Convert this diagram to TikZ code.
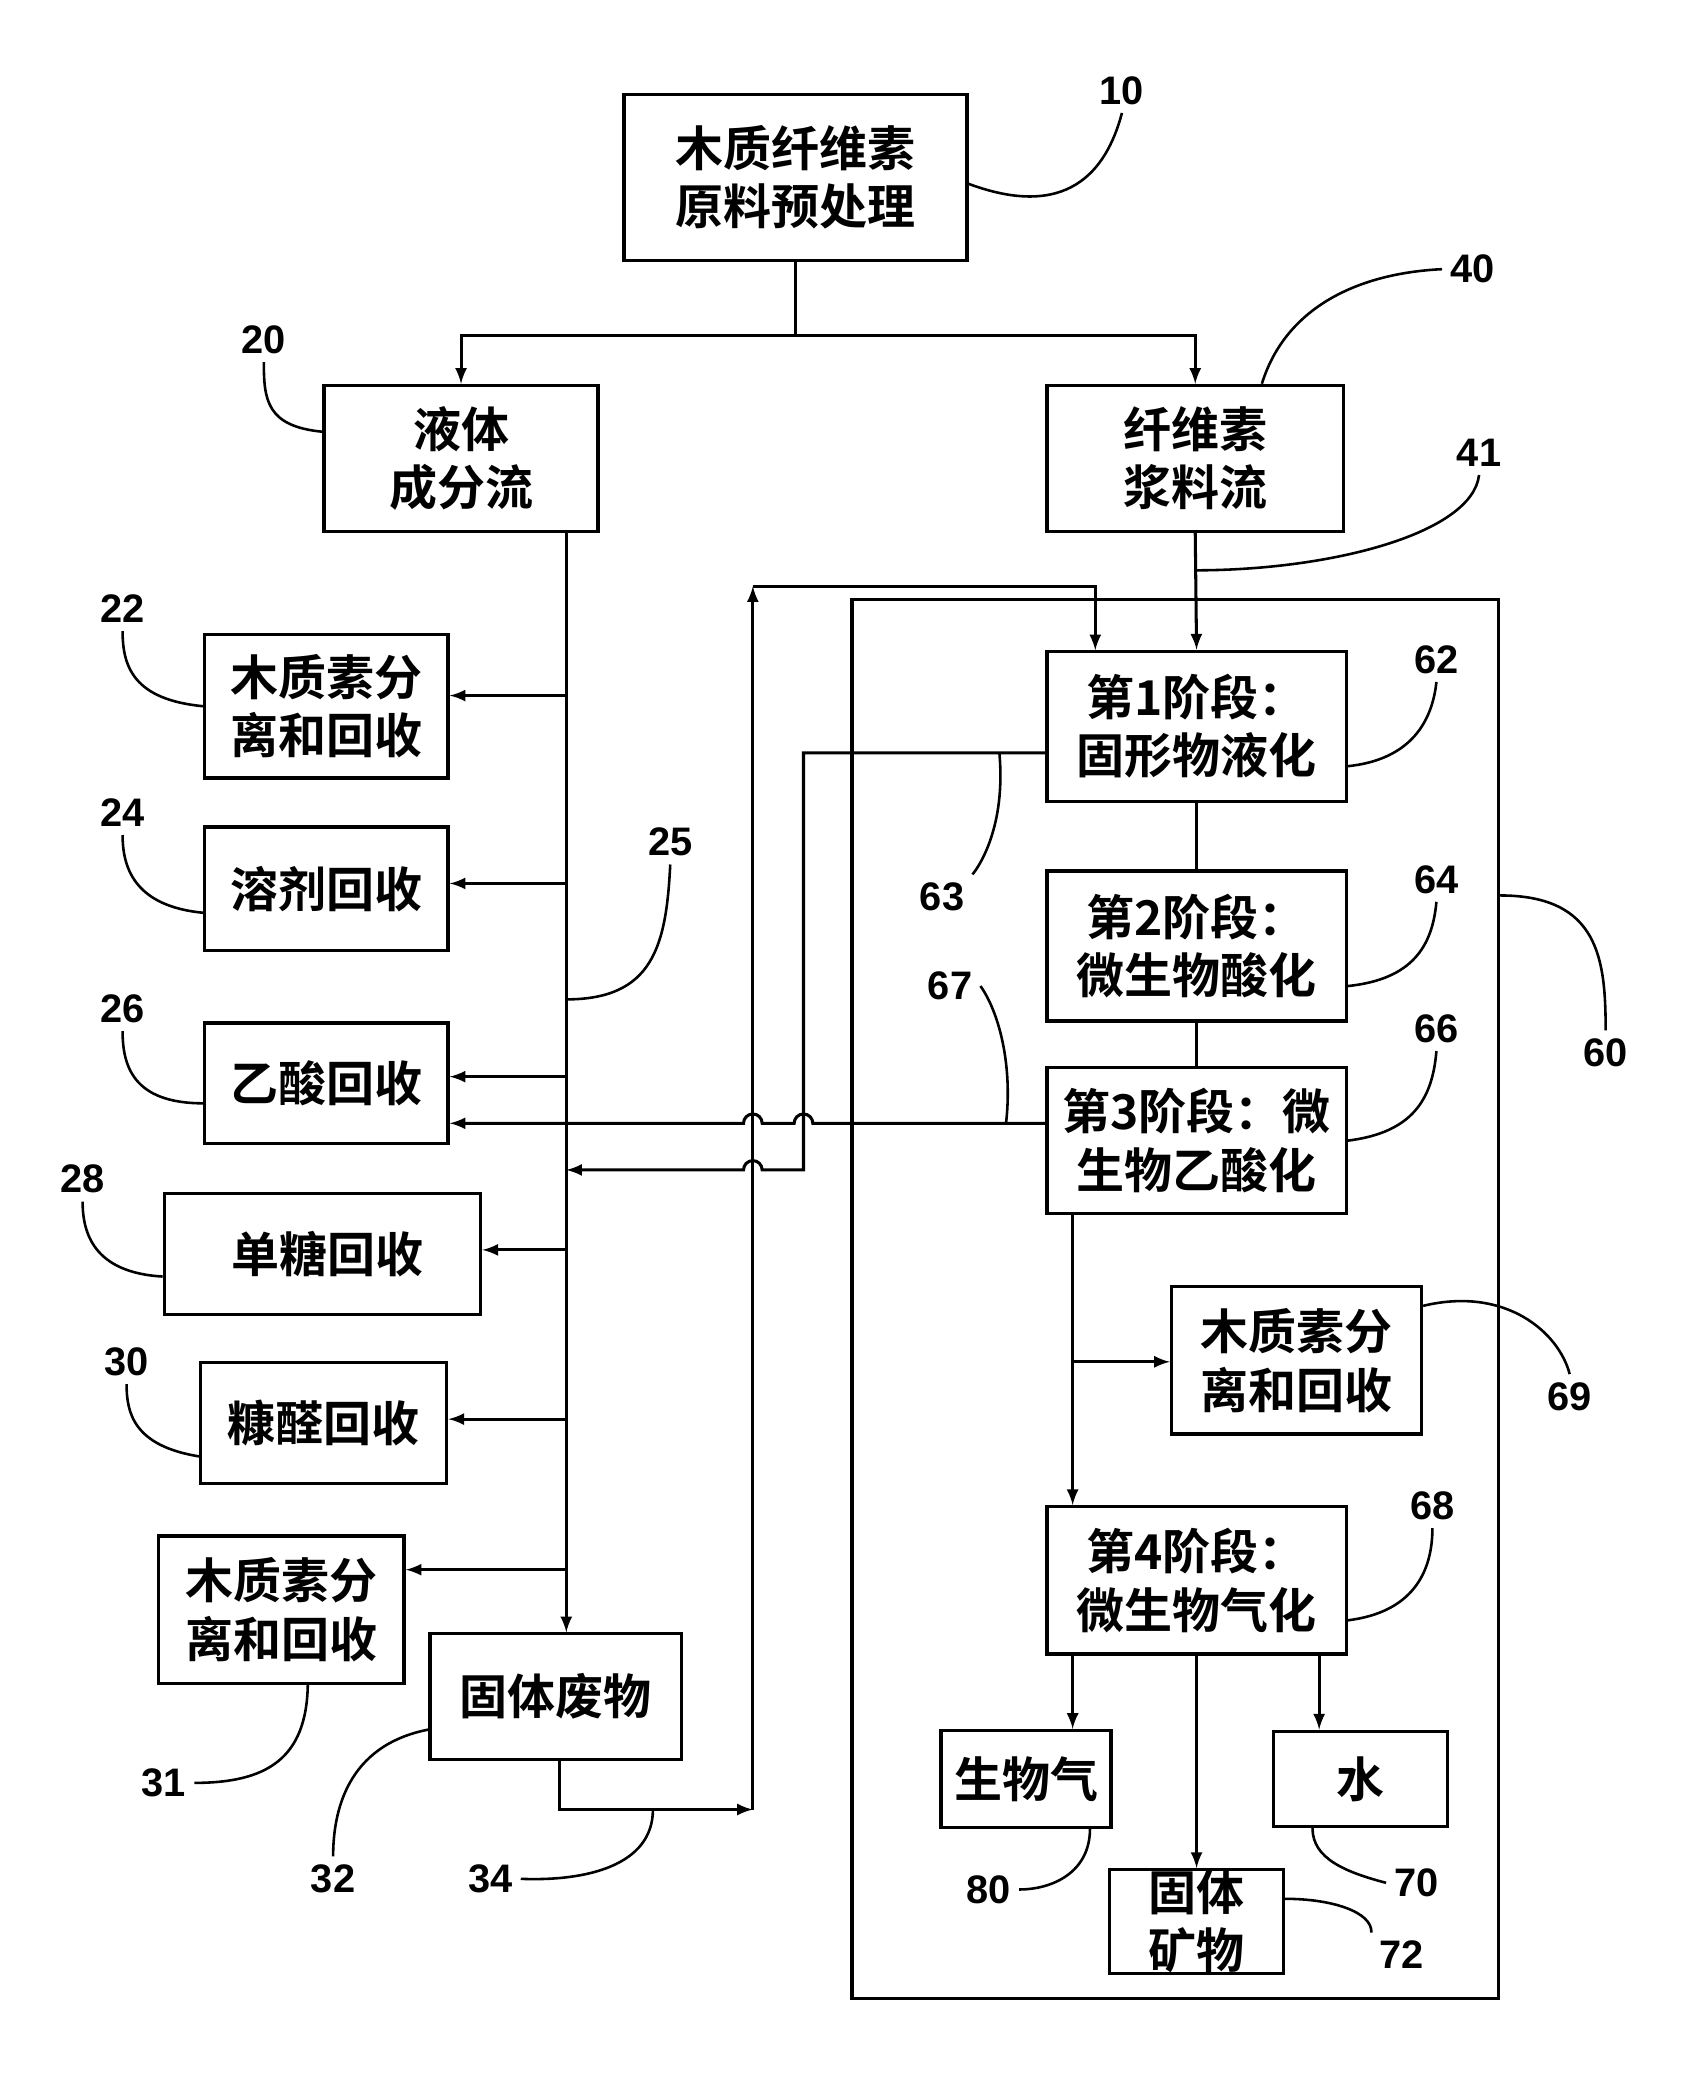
\documentclass[tikz,border=0pt]{standalone}
\usepackage{fontspec}
\setmainfont{Liberation Sans}
\newfontfamily\cjk{Noto Sans CJK SC}[BoldFont={Noto Sans CJK SC Bold}]
\usetikzlibrary{positioning,calc}

\tikzset{
  blk/.style={draw=black,line width=1.4pt,align=center,inner sep=0pt,font=\cjk\bfseries\fontsize{20.5}{25}\selectfont},
  arr/.style={-latex,line width=1.3pt},
  ln/.style={line width=1.3pt},
  lead/.style={line width=1.1pt},
  num/.style={font=\bfseries\fontsize{17}{17}\selectfont}
}
\newcommand{\bx}[6]{\node[blk,minimum width=#4*0.02cm-1.4pt,minimum height=#5*0.02cm-1.4pt] (#1) at (#2,#3) {#6};}

\begin{document}
\begin{tikzpicture}[x=0.02cm,y=-0.02cm]
		\useasboundingbox (0,0) rectangle (1280,1570);
		% process boxes
		\bx{pre}{597}{133}{260}{127}{木质纤维素\\原料预处理}
		\bx{liq}{346}{344}{208}{112}{液体\\成分流}
		\bx{pulp}{897}{344}{225}{112}{纤维素\\浆料流}
		\bx{lig}{245}{530}{185}{110}{木质素分\\离和回收}
		\bx{sol}{245}{667}{185}{95}{溶剂回收}
		\bx{ace}{245}{813}{185}{93}{乙酸回收}
		\bx{sug}{242}{941}{240}{93}{\ 单糖回收}
		\bx{fur}{243}{1068}{187}{93}{糠醛回收}
		\bx{ligb}{211}{1208}{187}{113}{木质素分\\离和回收}
		\bx{waste}{417}{1273}{191}{97}{固体废物}
		\node[draw=black,line width=1.4pt,minimum width=485*0.02cm,minimum height=1050*0.02cm] (sys) at (882,975) {};
		\bx{st1}{898}{545}{227}{115}{第1阶段：\\固形物液化}
		\bx{st2}{898}{710}{227}{115}{第2阶段：\\微生物酸化}
		\bx{st3}{898}{856}{227}{112}{第3阶段：微\\生物乙酸化}
		\bx{ligc}{973}{1021}{190}{113}{木质素分\\离和回收}
		\bx{st4}{898}{1186}{227}{113}{第4阶段：\\微生物气化}
		\bx{gas}{770}{1335}{130}{75}{生物气}
		\bx{wat}{1021}{1335}{133}{74}{水}
		\bx{min}{898}{1442}{133}{75}{固体\\矿物}

		% reference numbers
		\node[num] (n10) at (842,68) {10};
		\node[num] (n20) at (198,255) {20};
		\node[num] (n40) at (1105,202) {40};
		\node[num] (n41) at (1110,340) {41};
		\node[num] (n22) at (92,457) {22};
		\node[num] (n24) at (92,610) {24};
		\node[num] (n25) at (503,632) {25};
		\node[num] (n26) at (92,757) {26};
		\node[num] (n28) at (62,885) {28};
		\node[num] (n30) at (95,1022) {30};
		\node[num] (n31) at (123,1338) {31};
		\node[num] (n32) at (250,1410) {32};
		\node[num] (n34) at (368,1410) {34};
		\node[num] (n62) at (1078,495) {62};
		\node[num] (n63) at (707,673) {63};
		\node[num] (n64) at (1078,660) {64};
		\node[num] (n67) at (713,740) {67};
		\node[num] (n66) at (1078,772) {66};
		\node[num] (n60) at (1205,790) {60};
		\node[num] (n69) at (1178,1048) {69};
		\node[num] (n68) at (1075,1130) {68};
		\node[num] (n80) at (742,1418) {80};
		\node[num] (n70) at (1063,1413) {70};
		\node[num] (n72) at (1052,1467) {72};

		% flow lines
		\coordinate (split) at (597,252);
		\draw[ln] (pre.south) -- (split);
		\draw[arr] (split) -| (liq.north);
		\draw[arr] (split) -| (pulp.north);
		\draw[arr] (pulp.south) -- (st1.north);
		\coordinate (trunk) at (425,400);
		\draw[arr] (trunk) -- (425,1225);
		\foreach \yy/\tgt in {522/lig,663/sol,808/ace,938/sug,1065/fur,1178/ligb}
			\draw[arr] (425,\yy) -- (\tgt.east |- 0,\yy);
		% recycle of solid waste
		\draw[arr] (waste.south -| 420,0) |- (565,1358);
		\draw[arr] (565,1358) -- (565,440);
		\draw[arr] (565,440) -- (822,440) -- (822,488);
		% acetic acid return with hops
		\draw[arr] (st3.west |- 0,843) -- (610,843) arc(0:-180:7) -- (572,843) arc(0:-180:7) -- (ace.east |- 0,843);
		% liquefaction return
		\draw[arr] (st1.west |- 0,565) -- (603,565) -- (603,878) -- (572,878) arc(0:-180:7) -- (425,878);
		\draw[ln] (st1.south) -- (st2.north);
		\draw[ln] (st2.south) -- (st3.north);
		\draw[arr] (st3.south -| 805,0) -- (st4.north -| 805,0);
		\draw[arr] (805,1022) -- (ligc.west |- 0,1022);
		\draw[arr] (st4.south -| 805,0) -- (gas.north -| 805,0);
		\draw[arr] (st4.south) -- (min.north);
		\draw[arr] (st4.south -| 990,0) -- (wat.north -| 990,0);

		% leader lines
		\draw[lead] (pre.east) ++(0,5) .. controls (800,165) and (830,130) .. (n10.south);
		\draw[lead] (liq.west) ++(0,-20) .. controls (200,320) and (198,300) .. (n20.south);
		\draw[lead] (pulp.north) ++(50,0) .. controls (965,230) and (1020,205) .. (n40.west);
		\draw[lead] (897,428) .. controls (1000,428) and (1105,400) .. (n41.south);
		\draw[lead] (lig.west) .. controls (100,525) and (92,500) .. (n22.south);
		\draw[lead] (sol.west) ++(0,18) .. controls (100,680) and (92,650) .. (n24.south);
		\draw[lead] (425,750) .. controls (490,750) and (500,710) .. (n25.south);
		\draw[lead] (ace.west) ++(0,15) .. controls (100,828) and (92,800) .. (n26.south);
		\draw[lead] (sug.west) ++(0,17) .. controls (70,955) and (62,925) .. (n28.south);
		\draw[lead] (fur.west) ++(0,25) .. controls (100,1085) and (95,1060) .. (n30.south);
		\draw[lead] (ligb.south) ++(20,0) .. controls (230,1320) and (200,1338) .. (n31.east);
		\draw[lead] (waste.west) ++(0,25) .. controls (260,1310) and (250,1360) .. (n32.north);
		\draw[lead] (490,1358) .. controls (490,1400) and (440,1412) .. (n34.east);
		\draw[lead] (st1.east) ++(0,30) .. controls (1060,570) and (1075,540) .. (n62.south);
		\draw[lead] (750,565) .. controls (755,620) and (735,650) .. (n63.north east);
		\draw[lead] (st2.east) ++(0,30) .. controls (1060,735) and (1075,710) .. (n64.south);
		\draw[lead] (755,843) .. controls (760,800) and (750,760) .. (n67.east);
		\draw[lead] (st3.east) .. controls (1060,850) and (1075,825) .. (n66.south);
		\draw[lead] (sys.east |- 0,672) .. controls (1200,672) and (1205,720) .. (n60.north);
		\draw[lead] (ligc.east |- 0,980) .. controls (1130,965) and (1170,1000) .. (n69.north);
		\draw[lead] (st4.east) ++(0,30) .. controls (1060,1210) and (1075,1180) .. (n68.south);
		\draw[lead] (gas.south -| 818,0) .. controls (818,1405) and (790,1418) .. (n80.east);
		\draw[lead] (wat.south -| 985,0) .. controls (985,1395) and (1010,1405) .. (n70.west);
		\draw[lead] (min.east |- 0,1425) .. controls (1000,1425) and (1030,1435) .. (n72.north west);
	\end{tikzpicture}
\end{document}
